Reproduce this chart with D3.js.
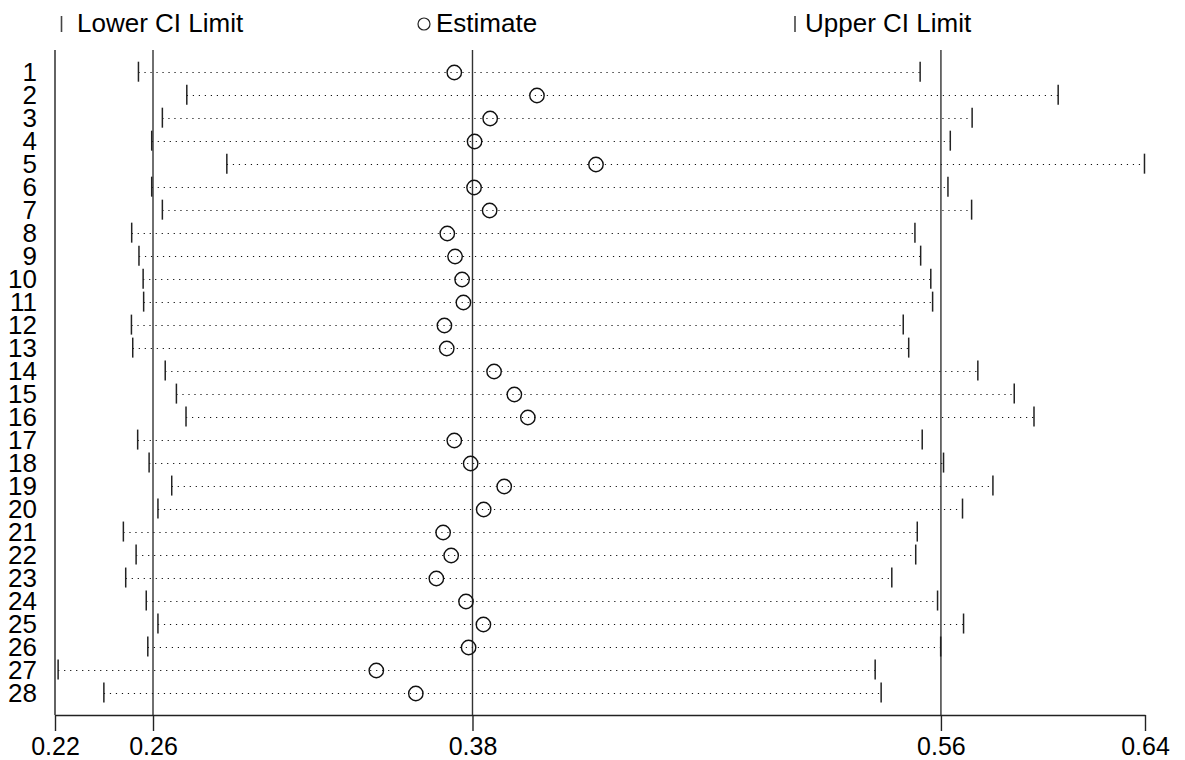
<!DOCTYPE html>
<html>
<head>
<meta charset="utf-8">
<script src="https://cdn.jsdelivr.net/npm/d3@7"></script>
<style>
  html, body { margin: 0; padding: 0; background: #fff; }
  svg { display: block; font-family: "Liberation Sans", Arial, sans-serif; }
</style>
</head>
<body>
<svg id="chart" width="1185" height="760"></svg>
<script>
const studies = d3.range(1, 29).map(String);
const lowerCI = [0.2515,0.2701,0.2607,0.2566,0.2855,0.2566,0.2607,0.2489,0.2517,0.2533,0.2535,0.2488,0.2493,0.2618,
                 0.2661,0.2698,0.2512,0.2556,0.2643,0.2590,0.2457,0.2506,0.2466,0.2545,0.2590,0.2551,0.2206,0.2382];
const estimate = [0.3730,0.4048,0.3868,0.3808,0.4275,0.3806,0.3866,0.3703,0.3733,0.3760,0.3765,0.3692,0.3701,0.3883,
                  0.3961,0.4013,0.3730,0.3793,0.3922,0.3843,0.3687,0.3718,0.3661,0.3775,0.3842,0.3785,0.3430,0.3582];
const upperCI = [0.5522,0.6053,0.5722,0.5638,0.6385,0.5629,0.5720,0.5502,0.5524,0.5563,0.5570,0.5457,0.5478,0.5744,
                 0.5884,0.5960,0.5530,0.5612,0.5802,0.5685,0.5511,0.5505,0.5413,0.5589,0.5689,0.5601,0.5349,0.5372];
const tickValues = [0.2194, 0.2571, 0.3800, 0.5602, 0.6387];
const refLines = [0.2571, 0.3800, 0.5602];
const legendLabels = ["Lower CI Limit", "Estimate", "Upper CI Limit"];

const svg = d3.select("#chart");
const plotLeft = 55, plotRight = 1145, plotTop = 50, plotBottom = 715;

const x = d3.scaleLinear().domain([tickValues[0], tickValues[tickValues.length - 1]]).range([plotLeft, plotRight]);
const y = d3.scalePoint().domain(studies).range([71.7, 692.5]);

// reference lines
svg.append("g").selectAll("line").data(refLines).join("line")
  .attr("x1", d => x(d)).attr("x2", d => x(d))
  .attr("y1", plotTop).attr("y2", plotBottom)
  .attr("stroke", "#333").attr("stroke-width", 1.4);

// left axis line
svg.append("line").attr("x1", plotLeft).attr("x2", plotLeft).attr("y1", plotTop).attr("y2", plotBottom)
  .attr("stroke", "#222").attr("stroke-width", 1.4);

// bottom axis
const xAxis = d3.axisBottom(x).tickValues(tickValues).tickFormat(d3.format(".2f")).tickSize(16).tickSizeOuter(0);
const gx = svg.append("g").attr("transform", `translate(0,${plotBottom})`).call(xAxis);
gx.select(".domain").attr("stroke", "#222").attr("stroke-width", 1.4);
gx.selectAll(".tick line").attr("stroke", "#222").attr("stroke-width", 1.4);
gx.selectAll(".tick text").attr("font-size", 25).attr("fill", "#000").attr("dy", "0.84em")
  .attr("font-family", "'Liberation Sans', Arial, sans-serif");

// y labels
svg.append("g").selectAll("text").data(studies).join("text")
  .attr("x", 37).attr("y", d => y(d))
  .attr("dy", "0.36em").attr("text-anchor", "end")
  .attr("font-size", 26).attr("fill", "#000").text(d => d);

const rows = studies.map((s, i) => ({ s, lo: lowerCI[i], est: estimate[i], hi: upperCI[i] }));

// dotted lines
svg.append("g").selectAll("line").data(rows).join("line")
  .attr("x1", d => x(d.lo)).attr("x2", d => x(d.hi))
  .attr("y1", d => Math.round(y(d.s)) + 0.5).attr("y2", d => Math.round(y(d.s)) + 0.5)
  .attr("stroke", "#111").attr("stroke-width", 1).attr("stroke-dasharray", "1.2,4.8");

// CI caps
const caps = svg.append("g");
caps.selectAll("line.lo").data(rows).join("line").attr("class", "lo")
  .attr("x1", d => x(d.lo)).attr("x2", d => x(d.lo))
  .attr("y1", d => y(d.s) - 10).attr("y2", d => y(d.s) + 10)
  .attr("stroke", "#222").attr("stroke-width", 1.5);
caps.selectAll("line.hi").data(rows).join("line").attr("class", "hi")
  .attr("x1", d => x(d.hi)).attr("x2", d => x(d.hi))
  .attr("y1", d => y(d.s) - 10).attr("y2", d => y(d.s) + 10)
  .attr("stroke", "#222").attr("stroke-width", 1.5);

// estimates
svg.append("g").selectAll("circle").data(rows).join("circle")
  .attr("cx", d => x(d.est)).attr("cy", d => Math.round(y(d.s)) + 0.5).attr("r", 7.2)
  .attr("fill", "none").attr("stroke", "#111").attr("stroke-width", 1.4);

// legend
const lg = svg.append("g");
const legendX = [61.5, 424, 795];
lg.append("line").attr("x1", legendX[0]).attr("x2", legendX[0]).attr("y1", 16).attr("y2", 32)
  .attr("stroke", "#444").attr("stroke-width", 1.6);
lg.append("circle").attr("cx", legendX[1]).attr("cy", 24).attr("r", 6)
  .attr("fill", "none").attr("stroke", "#222").attr("stroke-width", 1.2);
lg.append("line").attr("x1", legendX[2]).attr("x2", legendX[2]).attr("y1", 16).attr("y2", 32)
  .attr("stroke", "#444").attr("stroke-width", 1.6);
const textX = [77, 436, 805];
lg.selectAll("text").data(legendLabels).join("text")
  .attr("x", (d, i) => textX[i]).attr("y", 32)
  .attr("font-size", 26).attr("fill", "#000").text(d => d);
</script>
</body>
</html>
